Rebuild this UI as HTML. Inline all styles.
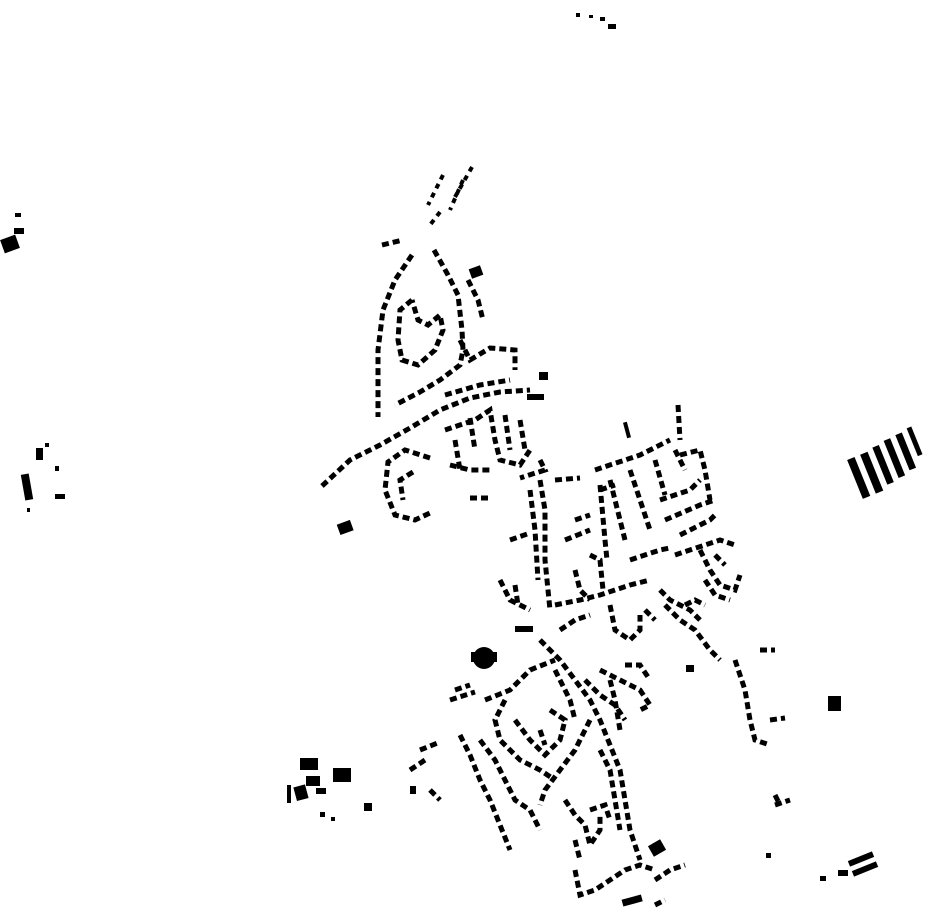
<!DOCTYPE html>
<html><head><meta charset="utf-8"><style>
html,body{margin:0;padding:0;background:#fff;width:930px;height:924px;overflow:hidden}
svg{display:block}
.d{fill:none;stroke:#000;stroke-width:5;stroke-dasharray:7 4}
.e{fill:none;stroke:#000;stroke-width:4;stroke-dasharray:5 5}
</style></head><body>
<svg width="930" height="924" viewBox="0 0 930 924" xmlns="http://www.w3.org/2000/svg">
<g fill="#000">
<!-- top specks -->
<rect x="576" y="13" width="4" height="4"/><rect x="589" y="15" width="4" height="3"/><rect x="600" y="17" width="5" height="4"/><rect x="608" y="24" width="8" height="5"/>
<!-- far left -->
<rect x="2" y="237" width="16" height="14" transform="rotate(-20 10 244)"/><rect x="14" y="228" width="10" height="6"/><rect x="15" y="213" width="6" height="4"/>
<rect x="36" y="448" width="7" height="12"/><rect x="45" y="443" width="4" height="4"/><rect x="23" y="474" width="8" height="26" transform="rotate(-10 27 487)"/><rect x="55" y="466" width="4" height="5"/><rect x="55" y="494" width="10" height="5"/><rect x="27" y="508" width="3" height="4"/>
<!-- right stripes -->
<g transform="rotate(-22 888 465)">
<rect x="852" y="445" width="8" height="42"/><rect x="866" y="445" width="8" height="42"/><rect x="880" y="443" width="7" height="40"/><rect x="893" y="441" width="7" height="40"/><rect x="906" y="440" width="7" height="38"/><rect x="919" y="438" width="5" height="30"/></g>
<!-- misc blocks -->
<rect x="470" y="267" width="12" height="10" transform="rotate(-20 476 272)"/>
<rect x="539" y="372" width="9" height="8"/><rect x="527" y="394" width="17" height="6"/>
<rect x="338" y="522" width="14" height="11" transform="rotate(-20 345 527)"/>
<rect x="625" y="422" width="4" height="16" transform="rotate(-15 627 430)"/>
<circle cx="484" cy="658" r="11"/><rect x="471" y="652" width="26" height="10"/>
<rect x="515" y="626" width="18" height="6"/>
<rect x="828" y="696" width="13" height="15"/>
<rect x="300" y="758" width="18" height="12"/><rect x="333" y="768" width="18" height="14"/><rect x="306" y="776" width="14" height="10"/><rect x="295" y="786" width="12" height="14" transform="rotate(-15 300 793)"/><rect x="316" y="788" width="10" height="6"/><rect x="287" y="785" width="4" height="18"/><rect x="364" y="803" width="8" height="8"/><rect x="320" y="812" width="5" height="5"/><rect x="331" y="817" width="4" height="4"/>
<rect x="650" y="842" width="14" height="12" transform="rotate(-30 657 848)"/>
<rect x="622" y="897" width="20" height="7" transform="rotate(-15 632 900)"/>
<rect x="848" y="856" width="26" height="6" transform="rotate(-22 861 859)"/><rect x="852" y="866" width="26" height="6" transform="rotate(-22 865 869)"/><rect x="838" y="870" width="10" height="6"/><rect x="820" y="876" width="6" height="5"/>
<rect x="766" y="853" width="5" height="5"/><rect x="686" y="665" width="8" height="7"/>
<rect x="410" y="786" width="6" height="8"/>
</g>
<!-- north fan -->
<path class="e" d="M472 167 L455 197"/><path class="e" d="M443 175 L428 205"/><path class="e" d="M463 180 L450 210"/><path class="e" d="M440 212 L430 225"/>
<!-- north loop outer -->
<path class="d" d="M382 245 L403 240 M412 255 L395 280 L383 310 L378 350 L378 390 L378 417"/>
<path class="d" d="M434 250 L448 275 L458 295 L462 330 L463 350 L460 365 L440 380 L420 392 L395 405"/>
<!-- inner loop -->
<path class="d" d="M412 300 L400 310 L398 340 L402 360 L418 365 L435 350 L443 330 L440 315 L428 325 L418 320 L412 300"/>
<path class="d" d="M468 280 L478 300 L483 320"/>
<!-- road west -->
<path class="d" d="M322 486 L350 460 L380 445 L410 428 L440 410 L470 398 L500 392 L530 390"/>
<path class="d" d="M445 395 L480 385 L510 380"/>
<!-- lower left loop -->
<path class="d" d="M430 458 L405 450 L388 462 L385 490 L395 515 L415 520 L432 512"/>
<path class="d" d="M413 472 L400 480 L403 500"/>
<!-- central cluster -->
<path class="d" d="M460 340 L470 360 L490 348 L515 350 L515 370"/>
<path class="d" d="M445 430 L475 420 L490 410 L495 440 L500 460 L520 465 L530 450"/>
<path class="d" d="M450 465 L470 470 L490 470"/>
<path class="d" d="M470 498 L490 498"/>
<path class="d" d="M520 420 L525 450 M505 415 L510 450"/>
<path class="d" d="M470 418 L475 450 M455 440 L460 470"/>
<path class="d" d="M540 460 L545 470 L520 478"/>
<!-- spine road -->
<path class="d" d="M540 480 L545 510 L545 560 L550 610"/>
<path class="d" d="M530 490 L535 530 L538 580"/>
<path class="d" d="M510 540 L530 533"/>
<path class="d" d="M500 580 L510 600 L530 610"/>
<path class="d" d="M515 585 L518 605"/>
<!-- east grid -->
<path class="d" d="M595 470 L640 455 L670 440"/>
<path class="d" d="M555 480 L580 478"/>
<path class="d" d="M600 490 L615 485 M610 480 L620 520 L625 540"/>
<path class="d" d="M600 485 L605 540 L607 560"/>
<path class="d" d="M630 470 L640 500 L650 530"/>
<path class="d" d="M678 405 L680 440 M675 450 L685 470 M680 455 L700 450 L705 470 L710 500"/>
<path class="d" d="M655 460 L665 495 M660 500 L690 490 L700 480"/>
<path class="d" d="M665 520 L700 505 L715 500"/>
<path class="d" d="M680 535 L710 520 L715 515"/>
<path class="d" d="M675 555 L705 545 L720 540 L735 545"/>
<path class="d" d="M630 560 L660 550 L670 548"/>
<path class="d" d="M575 520 L590 515 M565 540 L590 530"/>
<path class="d" d="M575 570 L580 590 L590 600"/>
<path class="d" d="M590 555 L600 560 L603 590"/>
<path class="d" d="M555 605 L580 600 L600 595 L615 590 L630 585 L650 580"/>
<path class="d" d="M560 630 L575 620 L590 615"/>
<path class="d" d="M700 550 L710 570 L720 585 L735 590 L740 575"/>
<path class="d" d="M715 555 L725 565 M705 580 L715 595 L730 600"/>
<path class="d" d="M660 590 L670 600 L690 610 L700 620"/>
<path class="d" d="M610 605 L615 630 L630 640 L640 630 L640 615"/>
<path class="d" d="M665 605 L680 620 L695 630 L710 650 L720 660"/>
<path class="d" d="M685 605 L695 600 L705 605"/>
<path class="d" d="M645 610 L655 620"/>
<path class="d" d="M735 660 L745 690 L750 720 L755 740 L770 745"/>
<path class="d" d="M770 720 L785 718 M760 650 L775 650"/>
<!-- south cluster -->
<path class="d" d="M485 700 L510 690 L530 670 L555 660"/>
<path class="d" d="M455 690 L470 685 M450 700 L475 692"/>
<path class="d" d="M540 640 L560 660 L575 680 L590 700 L600 720 L610 745 L620 770 L625 800 L630 830 L640 860"/>
<path class="d" d="M555 670 L570 700 L575 720 M585 680 L600 695 L615 705 L625 720"/>
<path class="d" d="M600 670 L620 680 L640 690 L650 705 L640 710"/>
<path class="d" d="M625 665 L640 665 L650 680"/>
<path class="d" d="M505 700 L495 720 L500 740 L520 760 L540 770 L555 780"/>
<path class="d" d="M515 720 L530 740 L545 755 L560 740 L565 720 L550 710"/>
<path class="d" d="M540 730 L545 745"/>
<path class="d" d="M590 720 L575 750 L560 770 L545 790 L540 805"/>
<path class="d" d="M460 735 L470 755 L480 780 L490 800 L500 825 L510 850"/>
<path class="d" d="M480 740 L495 760 L505 780 L515 800 L530 810 L540 830"/>
<path class="d" d="M420 750 L440 742 M410 770 L425 760"/>
<path class="d" d="M600 750 L610 770 L615 800 L620 830"/>
<path class="d" d="M565 800 L575 815 L585 825 L590 845 L600 830 L600 815"/>
<path class="d" d="M575 840 L580 860"/>
<path class="d" d="M575 870 L580 895 L595 890 L610 880 L625 870 L640 865 L655 870"/>
<path class="d" d="M655 880 L670 870 L685 865 M655 905 L665 900"/>
<path class="d" d="M590 810 L605 805 L610 820"/>
<path class="d" d="M610 680 L615 700 L620 730"/>
<path class="d" d="M775 805 L790 800 M775 795 L780 805"/>
<path class="d" d="M430 790 L440 800"/>
</svg>
</body></html>
